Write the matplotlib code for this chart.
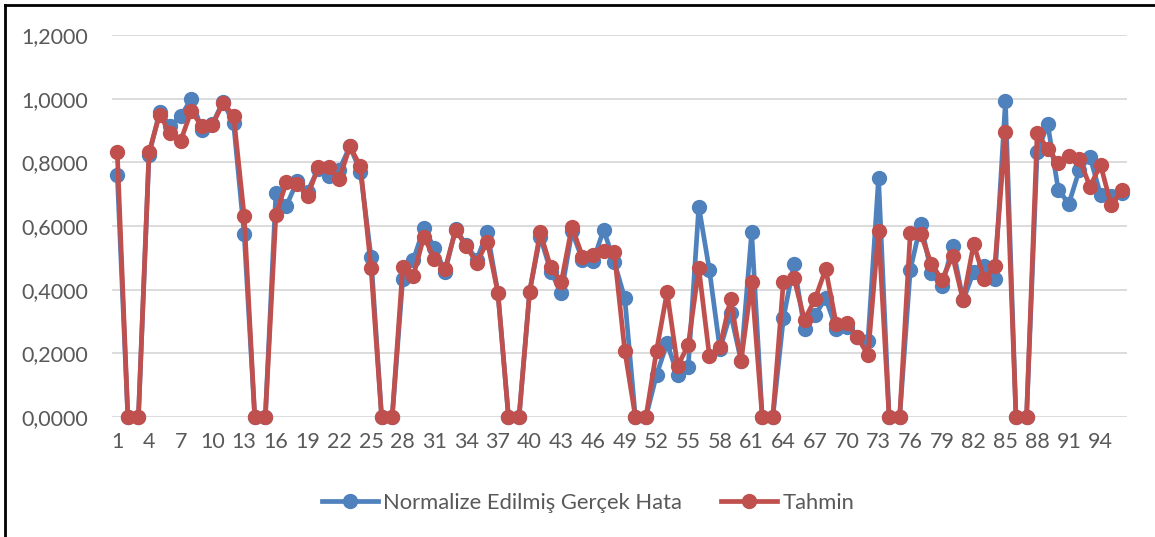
import numpy as np
import matplotlib.pyplot as plt
from matplotlib.lines import Line2D

plt.rcParams['font.family'] = ['Lato', 'DejaVu Sans']

# veri
gercek = [0.761, 0.0, 0.0, 0.824, 0.958, 0.915, 0.944, 1.000, 0.902, 0.920,
          0.991, 0.923, 0.575, 0.0, 0.0, 0.703, 0.664, 0.740, 0.708, 0.780,
          0.756, 0.777, 0.850, 0.771, 0.502, 0.0, 0.0, 0.434, 0.494, 0.593,
          0.530, 0.457, 0.590, 0.541, 0.494, 0.581, 0.390, 0.0, 0.0, 0.394,
          0.567, 0.457, 0.389, 0.583, 0.494, 0.490, 0.588, 0.488, 0.373, 0.0,
          0.0, 0.132, 0.232, 0.132, 0.158, 0.661, 0.462, 0.213, 0.326, 0.177,
          0.581, 0.0, 0.0, 0.310, 0.481, 0.276, 0.321, 0.373, 0.276, 0.284,
          0.250, 0.240, 0.751, 0.0, 0.0, 0.462, 0.607, 0.452, 0.410, 0.536,
          0.366, 0.457, 0.473, 0.433, 0.992, 0.0, 0.0, 0.831, 0.920, 0.714,
          0.670, 0.777, 0.817, 0.698, 0.695, 0.705]
tahmin = [0.831, 0.0, 0.0, 0.831, 0.950, 0.892, 0.868, 0.962, 0.913, 0.918,
          0.986, 0.947, 0.632, 0.0, 0.0, 0.635, 0.738, 0.733, 0.695, 0.784,
          0.784, 0.748, 0.850, 0.787, 0.468, 0.0, 0.0, 0.471, 0.443, 0.567,
          0.496, 0.464, 0.588, 0.536, 0.485, 0.551, 0.391, 0.0, 0.0, 0.394,
          0.580, 0.470, 0.425, 0.598, 0.504, 0.509, 0.520, 0.518, 0.208, 0.0,
          0.0, 0.208, 0.392, 0.160, 0.226, 0.468, 0.192, 0.220, 0.371, 0.177,
          0.425, 0.0, 0.0, 0.425, 0.436, 0.305, 0.371, 0.465, 0.292, 0.295,
          0.251, 0.195, 0.585, 0.0, 0.0, 0.578, 0.575, 0.480, 0.431, 0.506,
          0.366, 0.544, 0.433, 0.475, 0.894, 0.0, 0.0, 0.892, 0.842, 0.798,
          0.821, 0.810, 0.724, 0.792, 0.665, 0.712]
x = np.arange(1, len(gercek) + 1)
etiketler = ['Normalize Edilmiş Gerçek Hata', 'Tahmin']
renkler = ['#4F81BD', '#C0504D']
yazi = '#595959'

fig = plt.figure(figsize=(11.55, 5.37), dpi=100)
ax = fig.add_axes([112/1155, 1 - 417/537, (1127 - 112)/1155, (417 - 35)/537])

for seri, renk, ad in zip([gercek, tahmin], renkler, etiketler):
    ax.plot(x, seri, color=renk, lw=3.4, marker='o', ms=10, label=ad,
            solid_joinstyle='round', clip_on=False)

ax.set_xlim(0.5, len(x) + 0.5)
ax.set_ylim(0, 1.2)
ax.set_yticks(np.arange(0, 1.21, 0.2))
ax.set_yticklabels([('%.4f' % v).replace('.', ',') for v in np.arange(0, 1.21, 0.2)])
ax.set_xticks(x[::3])
ax.set_xticklabels([str(i) for i in x[::3]])
ax.tick_params(length=0, labelsize=15.5, colors=yazi)
ax.tick_params(axis='y', pad=17)
ax.tick_params(axis='x', pad=11)
ax.grid(axis='y', color='#D9D9D9', lw=1.3)
ax.set_axisbelow(True)
for s in ax.spines.values():
    s.set_visible(False)

tutucular = [Line2D([], [], color=r, lw=3.4, marker='o', ms=10) for r in renkler]
fig.legend(tutucular, etiketler, loc='center', bbox_to_anchor=(588/1155, 1 - 503/537),
           ncol=2, frameon=False, fontsize=15.8, labelcolor=yazi,
           handlelength=2.55, handletextpad=0.23, columnspacing=1.8)

# cerceve (sol ve ust)
fig.add_artist(Line2D([5/1155, 5/1155], [0, 1 - 5/537], color='black', lw=2))
fig.add_artist(Line2D([5/1155, 1], [1 - 5/537, 1 - 5/537], color='black', lw=2))

plt.savefig('out.png', dpi=100)
